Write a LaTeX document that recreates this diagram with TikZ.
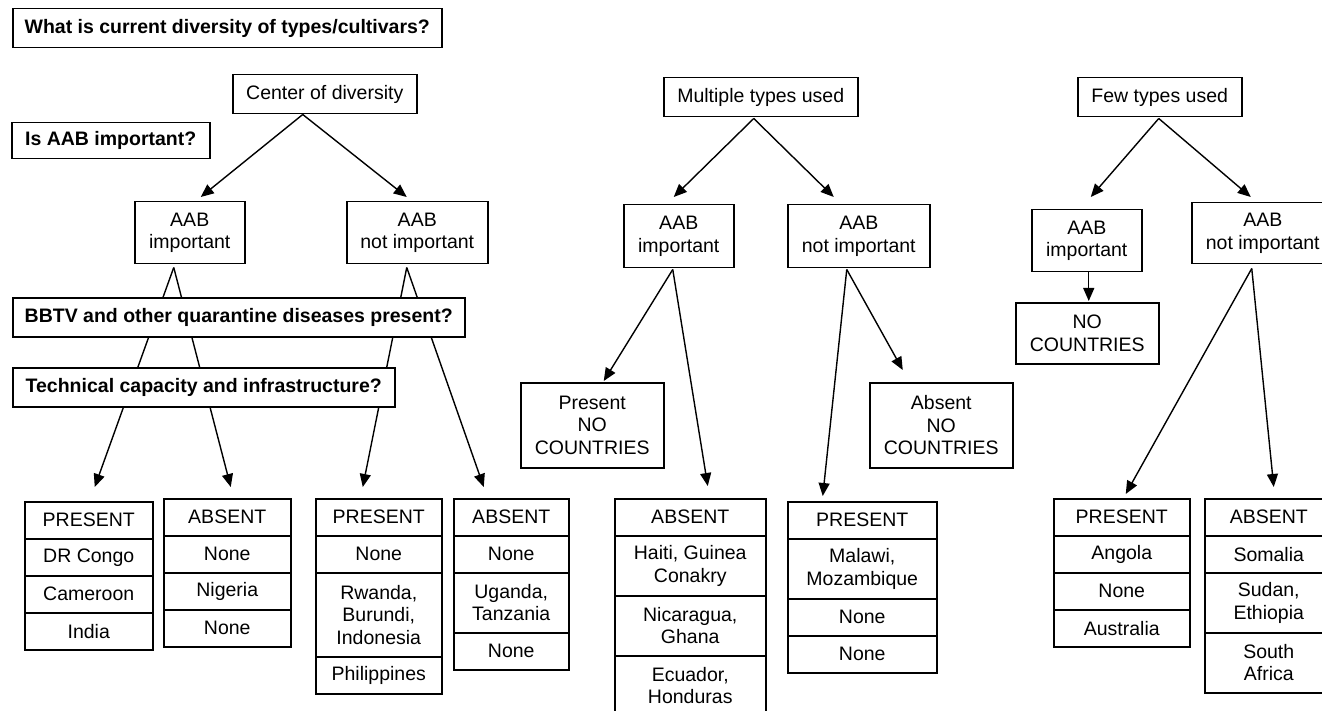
\documentclass[tikz,border=0pt]{standalone}
\usepackage{fontspec}
\setmainfont{Liberation Sans}
\usetikzlibrary{arrows.meta}
\pgfdeclarelayer{bg}
\pgfsetlayers{bg,main}
\tikzset{
  box/.style={draw, line width=1.5pt, fill=white, inner sep=0pt, align=center,
    font=\fontsize{19.5}{22.5}\selectfont, anchor=north west},
  qbox/.style={box, font=\fontsize{19.5}{22.5}\selectfont\bfseries},
  arr/.style={line width=1.4pt, -{Triangle[length=13pt,width=11pt]}},
}
\newcommand{\bx}[6][box]{\node[#1, minimum width=#4pt, minimum height=#5pt] (#2) at #3 {#6};}
\begin{document}
\begin{tikzpicture}[x=1pt,y=-1pt]
\useasboundingbox (0,0) rectangle (1322,711);

% questions
\bx[qbox]{title}{(12,8)}{429}{39}{What is current diversity of types/cultivars?}
\bx[qbox]{isaab}{(11,122)}{198}{36}{Is AAB important?}
\bx[qbox]{bbtv}{(12,297)}{452}{39}{BBTV and other quarantine diseases present?}
\bx[qbox]{tech}{(12,367)}{382}{39}{Technical capacity and infrastructure?}

% tree 1
\bx{cod}{(232,74)}{184}{39}{Center of diversity}
\bx{aab1}{(134,201)}{110}{62}{AAB\\important}
\bx{naab1}{(346,201)}{141}{62}{AAB\\not important}

\bx{c1a}{(24,501)}{128}{37}{PRESENT}
\bx{c1b}{(24,538)}{128}{37}{DR Congo}
\bx{c1c}{(24,575)}{128}{37}{Cameroon}
\bx{c1d}{(24,612)}{128}{37}{India}

\bx{c2a}{(163,498)}{127}{37}{ABSENT}
\bx{c2b}{(163,535)}{127}{37}{None}
\bx{c2c}{(163,572)}{127}{37}{Nigeria}
\bx{c2d}{(163,609)}{127}{37}{None}

\bx{c3a}{(315,498)}{126}{37}{PRESENT}
\bx{c3b}{(315,535)}{126}{37}{None}
\bx{c3c}{(315,572)}{126}{84}{Rwanda,\\Burundi,\\Indonesia}
\bx{c3d}{(315,656)}{126}{37}{Philippines}

\bx{c4a}{(453,498)}{115}{37}{ABSENT}
\bx{c4b}{(453,535)}{115}{37}{None}
\bx{c4c}{(453,572)}{115}{60}{Uganda,\\Tanzania}
\bx{c4d}{(453,632)}{115}{37}{None}

% tree 2
\bx{mtu}{(663,77)}{194}{39}{Multiple types used}
\bx{aab2}{(623,204)}{110}{63}{AAB\\important}
\bx{naab2}{(787,204)}{142}{63}{AAB\\not important}
\bx{pnc}{(520,382)}{143}{85}{Present\\NO\\COUNTRIES}
\bx{anc}{(869,382)}{143}{85}{Absent\\NO\\COUNTRIES}

\bx{c5a}{(614,498)}{151}{37}{ABSENT}
\bx{c5b}{(614,535)}{151}{60}{Haiti, Guinea\\Conakry}
\bx{c5c}{(614,595)}{151}{60}{Nicaragua,\\Ghana}
\bx{c5d}{(614,655)}{151}{60}{Ecuador,\\Honduras}

\bx{c6a}{(787,501)}{149}{37}{PRESENT}
\bx{c6b}{(787,538)}{149}{60}{Malawi,\\Mozambique}
\bx{c6c}{(787,598)}{149}{37}{None}
\bx{c6d}{(787,635)}{149}{37}{None}

% tree 3
\bx{ftu}{(1077,77)}{164}{39}{Few types used}
\bx{aab3}{(1031,209)}{110}{62}{AAB\\important}
\bx{nc3}{(1015,302)}{143}{61}{NO\\COUNTRIES}
\bx{naab3}{(1191,202)}{142}{61}{AAB\\not important}

\bx{c7a}{(1053,498)}{136}{37}{PRESENT}
\bx{c7b}{(1053,535)}{136}{37}{Angola}
\bx{c7c}{(1053,572)}{136}{37}{None}
\bx{c7d}{(1053,609)}{136}{37}{Australia}

\bx{c8a}{(1204,498)}{128}{37}{ABSENT}
\bx{c8b}{(1204,535)}{128}{37}{Somalia}
\bx{c8c}{(1204,572)}{128}{60}{Sudan,\\Ethiopia}
\bx{c8d}{(1204,632)}{128}{60}{South\\Africa}

\begin{pgfonlayer}{bg}
\fill[white] (0,0) rectangle (1322,711);
% tree 1
\draw[arr] ([xshift=-22pt]cod.south) -- ([xshift=11pt,yshift=4pt]aab1.north);
\draw[arr] ([xshift=-22pt]cod.south) -- ([xshift=-10.5pt,yshift=4pt]naab1.north);
\draw[arr] ([xshift=-16pt,yshift=-3pt]aab1.south) -- ([xshift=6pt,yshift=14pt]c1a.north);
\draw[arr] ([xshift=-16pt,yshift=-3pt]aab1.south) -- ([xshift=3.5pt,yshift=11pt]c2a.north);
\draw[arr] ([xshift=-10.5pt,yshift=-3pt]naab1.south) -- ([xshift=-16pt,yshift=11pt]c3a.north);
\draw[arr] ([xshift=-10.5pt,yshift=-3pt]naab1.south) -- ([xshift=-27.5pt,yshift=11pt]c4a.north);
% tree 2
\draw[arr] ([xshift=-7pt,yshift=-1pt]mtu.south) -- ([xshift=-5pt,yshift=7pt]aab2.north);
\draw[arr] ([xshift=-7pt,yshift=-1pt]mtu.south) -- ([xshift=-25pt,yshift=7pt]naab2.north);
\draw[arr] ([xshift=-6pt,yshift=-1pt]aab2.south) -- ([xshift=11.5pt,yshift=1pt]pnc.north);
\draw[arr] ([xshift=-6pt,yshift=-1pt]aab2.south) -- ([xshift=17.5pt,yshift=12pt]c5a.north);
\draw[arr] ([xshift=-12pt,yshift=-1pt]naab2.south) -- ([xshift=-39.5pt,yshift=5pt]c6a.north);
\draw[arr] ([xshift=-12pt,yshift=-1pt]naab2.south) -- ([xshift=-38.5pt,yshift=12pt]anc.north);
% tree 3
\draw[arr] ([xshift=-1pt,yshift=-1pt]ftu.south) -- ([xshift=4pt,yshift=12pt]aab3.north);
\draw[arr] ([xshift=-1pt,yshift=-1pt]ftu.south) -- ([xshift=-12pt,yshift=5pt]naab3.north);
\draw[arr] ([xshift=2pt]aab3.south) -- ([xshift=1.5pt,yshift=1pt]nc3.north);
\draw[arr] ([xshift=-11pt,yshift=-4pt]naab3.south) -- ([xshift=4pt,yshift=4pt]c7a.north);
\draw[arr] ([xshift=-11pt,yshift=-4pt]naab3.south) -- ([xshift=5pt,yshift=11pt]c8a.north);
\end{pgfonlayer}
\end{tikzpicture}
\end{document}
